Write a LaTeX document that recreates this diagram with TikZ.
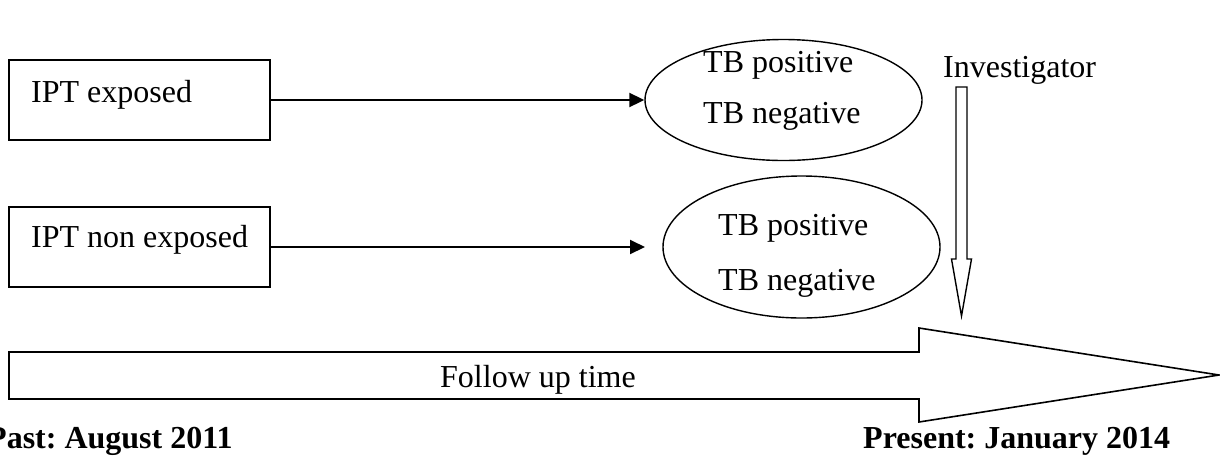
\documentclass[tikz,border=0pt]{standalone}
\usepackage{fontspec}
\setmainfont{Liberation Serif}
\usetikzlibrary{shapes.geometric,arrows.meta}
\frenchspacing
\begin{document}
\begin{tikzpicture}[x=1pt,y=-1pt,
  txt/.style={font=\fontsize{32}{38}\selectfont, inner sep=0pt, anchor=base west},
  bold/.style={txt, font=\fontsize{32}{38}\selectfont\bfseries},
  group/.style={draw, line width=1.5pt, minimum width=261pt, minimum height=80pt, inner sep=0pt},
  outcome/.style={draw, ellipse, line width=1.4pt, minimum width=277pt, inner sep=0pt},
  link/.style={line width=2pt, -{Triangle[length=15pt,width=14pt]}},
  hollow/.style={draw, line width=1.4pt, fill=white, line join=miter}]
\useasboundingbox (0,0) rectangle (1220,456);

% exposure groups
\node[group] (b1) at (139.5,100) {};
\node[group] (b2) at (139.5,247) {};
\node[txt] (t1) at (31,102) {IPT exposed};
\node[txt] (t2) at (31,247) {IPT non exposed};

% outcomes
\node[outcome, minimum height=121pt] (e1) at (783.5,100) {};
\node[outcome, minimum height=142pt] (e2) at (801.5,247) {};
\node[txt] (p1) at (703,72) {TB positive};
\node[txt] (n1) at (703,123) {TB negative};
\node[txt] (p2) at (718,235) {TB positive};
\node[txt] (n2) at (718,290) {TB negative};

\coordinate (e2in) at (645,247);
\draw[link] (b1.east) -- (e1.west);
\draw[link] (b2.east) -- (e2in);

% investigator and the observation arrow
\node[txt] (inv) at (943,77) {Investigator};
\draw[hollow] (956,87) -- (967,87) -- (967,259) -- (971.5,259) -- (961.5,316)
  -- (951.5,259) -- (956,259) -- cycle;

% follow up time axis
\draw[hollow, line width=1.6pt] (9,352) -- (919,352) -- (919,328) -- (1219,375)
  -- (919,422) -- (919,399) -- (9,399) -- cycle;
\node[txt] (fu) at (440,387) {Follow up time};

% time points
\node[bold] (past) at (-13,448) {Past: August 2011};
\node[bold] (present) at (863,448) {Present: January 2014};
\end{tikzpicture}
\end{document}
